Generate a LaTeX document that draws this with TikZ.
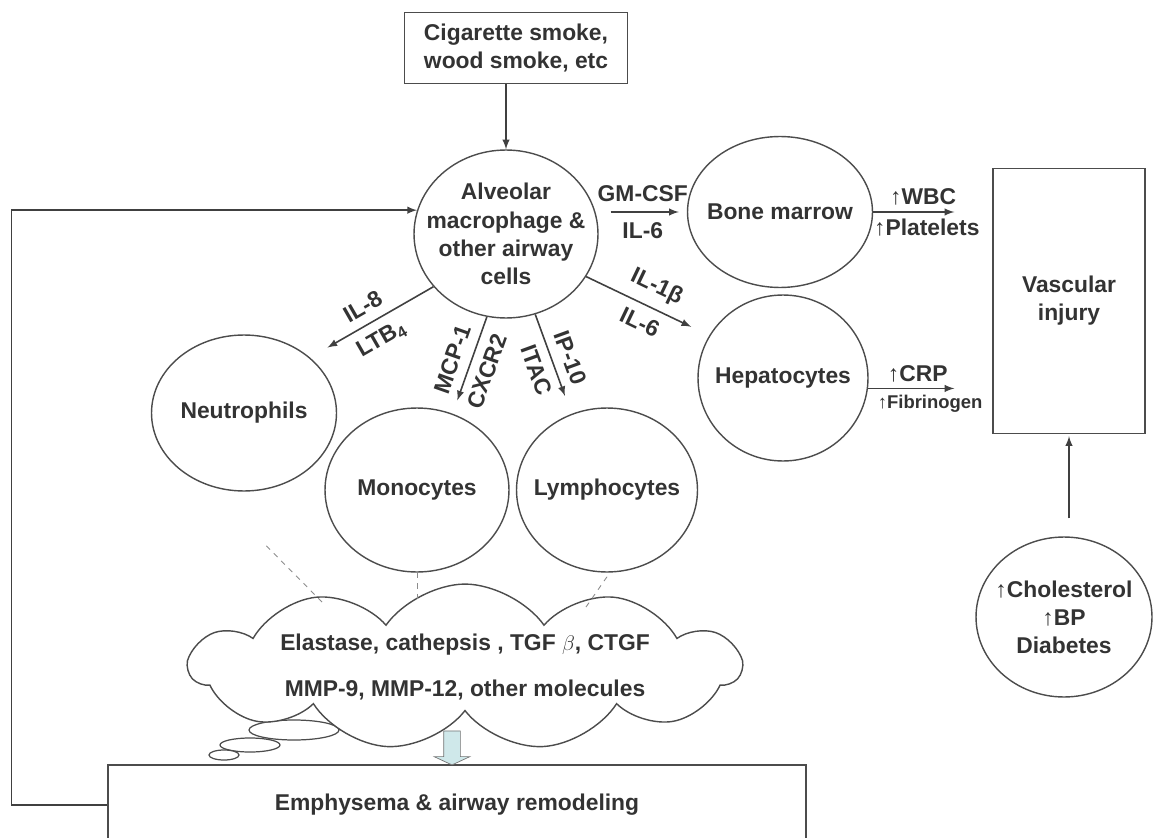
\documentclass[tikz,border=0pt]{standalone}
\usepackage{fontspec}
\setmainfont{Liberation Sans}
\usetikzlibrary{shapes.geometric,shapes.symbols,shapes.arrows}

\definecolor{flowfill}{HTML}{CFE8EA}
\newcommand{\upar}{{\mdseries ↑}}

\begin{document}
\begin{tikzpicture}[x=0.02cm, y=-0.02cm, >=latex,
    every node/.style={font=\fontsize{13}{16}\selectfont\bfseries, text=black!80},
    cell/.style={ellipse, draw=black!70, line width=0.8pt, inner sep=-20pt, align=center},
    box/.style={rectangle, draw=black!70, line width=0.8pt, align=center},
    link/.style={->, draw=black!75, line width=0.9pt},
    dashline/.style={dashed, draw=black!45, line width=0.5pt},
    bubble/.style={draw=black!70, line width=0.7pt, fill=white},
    small/.style={font=\fontsize{10.5}{12}\selectfont\bfseries}]
  \useasboundingbox (0,0) rectangle (1153,838);

  % source and airway cells
  \node[box, minimum width=4.46cm, minimum height=1.42cm] (cig) at (516,48) {Cigarette smoke,\\wood smoke, etc};
  \node[cell, minimum width=3.68cm, minimum height=3.36cm] (alv) at (506,234) {Alveolar\\macrophage \&\\other airway\\cells};

  % systemic side
  \node[cell, minimum width=3.7cm, minimum height=3.02cm] (bone) at (780,212) {Bone marrow};
  \node[cell, minimum width=3.4cm, minimum height=3.32cm] (hep) at (783,378) {Hepatocytes};
  \node[box, minimum width=3.04cm, minimum height=5.3cm] (vasc) at (1069,301) {Vascular\\injury};
  \node[cell, minimum width=3.52cm, minimum height=3.2cm] (risk) at (1064,617) {\upar Cholesterol\\\upar BP\\Diabetes};

  % recruited cells
  \node[cell, minimum width=3.7cm, minimum height=3.12cm] (neut) at (244,413) {Neutrophils};
  \node[cell, minimum width=3.68cm, minimum height=3.28cm] (mono) at (417,490) {Monocytes};
  \node[cell, minimum width=3.62cm, minimum height=3.28cm] (lymph) at (607,490) {Lymphocytes};

  % mediators cloud
  \draw[bubble] (294,730) ellipse (45 and 10);
  \draw[bubble] (250,745) ellipse (30 and 7);
  \draw[bubble] (224,755) ellipse (15 and 5);
  \node[cloud, draw=black!70, line width=0.8pt, fill=white, cloud puffs=11, cloud puff arc=110,
        cloud ignores aspect, minimum width=11.02cm, minimum height=2.44cm, inner sep=0pt, align=center]
        (mol) at (465,667) {Elastase, cathepsis , TGF $\beta$, CTGF\\[10pt]MMP-9, MMP-12, other molecules};

  \node[box, minimum width=13.96cm, minimum height=1.6cm] (emph) at (457,805) {Emphysema \& airway remodeling};
  \node[single arrow, draw=black!55, fill=flowfill, rotate=-90, minimum height=0.68cm,
        inner sep=0.16cm, single arrow head extend=0.19cm, single arrow tip angle=130] (flow) at (452,746) {};

  \coordinate (dneut) at (322,602);
  \coordinate (dmono) at (417,603);
  \coordinate (dlym) at (586,607);

  % connectors
  \draw[link] (cig.south -| alv.north) -- (alv.north);
  \draw[link, shorten <=0.24cm, shorten >=0.16cm] (alv.east |- bone.west) -- (bone.west)
    node[midway, above=2pt] {GM-CSF} node[midway, below=2pt] {IL-6};
  \draw[link, shorten >=0.4cm] (alv.-28) -- (hep.150)
    node[midway, sloped, above=2pt] {IL-1β} node[midway, sloped, below=2pt] {IL-6};
  \draw[link, shorten >=0.4cm] (alv.216) -- (neut.40)
    node[midway, sloped, above=2pt] {IL-8} node[midway, sloped, below=2pt] {LTB\textsubscript{4}};
  \draw[link, shorten >=0.28cm] (alv.257) -- (mono.65)
    node[midway, sloped, above=2pt] {MCP-1} node[midway, sloped, below=2pt] {CXCR2};
  \draw[link, shorten >=0.38cm] (alv.290) -- (lymph.115)
    node[midway, sloped, above=2pt] {IP-10} node[midway, sloped, below=2pt] {ITAC};

  \draw[link, shorten >=0.76cm] (bone.east) -- (bone.east -| vasc.west)
    node[pos=0.42, above] {\upar WBC} node[pos=0.45, below] {\upar Platelets};
  \draw[link, shorten >=0.76cm] (hep.-7) -- (hep.-7 -| vasc.west)
    node[pos=0.4, above] {\upar CRP} node[pos=0.5, below, small] {\upar Fibrinogen};
  \draw[link, shorten <=0.36cm, shorten >=0.04cm] (risk.north -| vasc.south) -- (vasc.south);

  \draw[link] (emph.west) -- ++(-96,0) |- (alv.165);

  \draw[dashline, shorten <=1.72cm] (neut.-118) -- (dneut);
  \draw[dashline] (mono.south) -- (dmono);
  \draw[dashline, shorten <=0.1cm] (lymph.-88) -- (dlym);
\end{tikzpicture}
\end{document}
